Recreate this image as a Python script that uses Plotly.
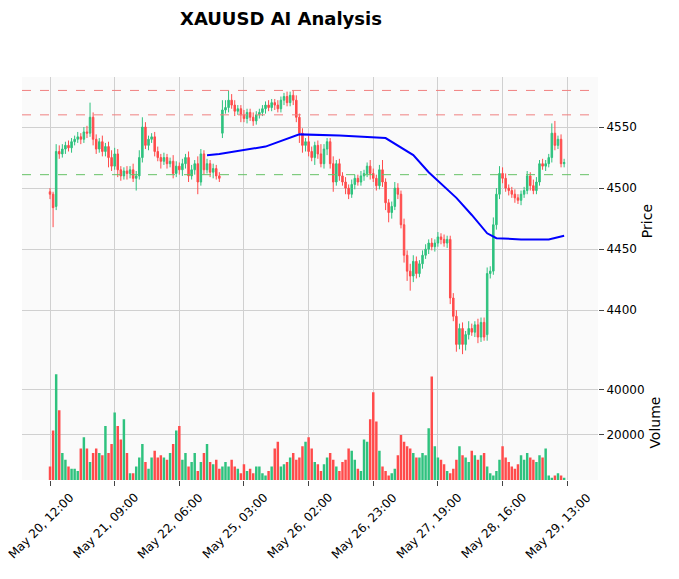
import plotly.graph_objects as go
from plotly.subplots import make_subplots

# ---------------- data ----------------
closes = [4495,4484,4530,4528,4532,4535,4533,4538,4540,4542,4540,4546,4545,4558,4540,4532,4538,4530,4534,4525,
          4518,4528,4515,4510,4514,4512,4515,4508,4510,4525,4550,4535,4540,4542,4530,4525,4522,4525,4520,4522,
          4512,4518,4515,4520,4525,4510,4515,4520,4505,4528,4515,4520,4513,4516,4510,4508,4564,4566,4572,4568,
          4563,4565,4560,4557,4562,4558,4555,4560,4562,4565,4568,4566,4570,4568,4565,4572,4575,4570,4576,4572,
          4558,4545,4535,4538,4530,4525,4535,4528,4520,4532,4538,4520,4505,4520,4510,4505,4500,4495,4503,4508,
          4505,4510,4512,4518,4512,4508,4502,4515,4505,4488,4480,4485,4500,4495,4470,4445,4432,4428,4440,4430,
          4438,4445,4450,4455,4452,4455,4460,4458,4455,4458,4410,4395,4372,4385,4372,4380,4385,4382,4388,4378,
          4390,4378,4430,4432,4470,4495,4512,4508,4500,4498,4495,4492,4490,4495,4498,4510,4502,4498,4505,4520,
          4518,4520,4525,4545,4535,4540,4520,4521]
opens = [4497,4495,4485,4530,4528,4532,4535,4533,4538,4540,4542,4540,4546,4545,4558,4540,4532,4538,4530,4534,
         4525,4518,4528,4515,4510,4514,4512,4515,4508,4510,4525,4550,4535,4540,4542,4530,4525,4522,4525,4520,
         4522,4512,4518,4515,4520,4525,4510,4515,4520,4505,4528,4515,4520,4513,4516,4510,4545,4564,4566,4572,
         4568,4563,4565,4560,4557,4562,4558,4555,4560,4562,4565,4568,4566,4570,4568,4565,4572,4575,4570,4576,
         4572,4558,4545,4535,4538,4530,4525,4535,4528,4520,4532,4538,4520,4505,4520,4510,4505,4500,4495,4503,
         4508,4505,4510,4512,4518,4512,4508,4502,4515,4505,4488,4480,4485,4500,4495,4470,4445,4432,4428,4440,
         4430,4438,4445,4450,4455,4452,4455,4460,4458,4455,4458,4410,4395,4372,4385,4372,4380,4385,4382,4388,
         4378,4390,4380,4430,4432,4470,4495,4512,4508,4500,4498,4495,4492,4490,4495,4498,4510,4502,4498,4505,
         4520,4518,4520,4525,4545,4535,4540,4520]
wick_up = [3,2,6,5,4,3,4,3,3,4,3,4,5,12,4,4,3,5,3,4,6,5,4,3,3,4,3,5,4,6,8,4,3,3,4,4,3,4,3,3,
           5,4,3,4,3,5,4,3,6,4,3,4,3,4,3,3,8,6,8,5,4,3,3,4,3,3,4,3,3,3,3,4,3,3,4,3,3,4,3,4,
           4,3,4,3,5,4,3,4,8,4,3,3,6,3,4,3,4,3,4,3,3,4,3,3,5,4,3,4,8,3,3,4,5,4,3,5,4,6,5,4,
           3,4,4,3,4,3,4,3,4,3,3,4,5,4,5,3,6,4,3,5,4,4,5,4,6,5,6,5,4,3,3,4,3,3,3,4,3,5,4,3,
           4,3,3,8,10,3,4,3]
wick_dn = [4,16,3,4,3,4,3,4,3,3,4,3,4,3,5,4,3,4,4,8,4,3,6,4,3,5,4,3,10,3,4,3,4,3,4,3,6,3,4,3,
           4,3,4,5,4,5,3,4,10,3,4,3,4,5,3,3,4,3,4,3,4,3,6,3,4,3,4,3,3,3,4,3,3,4,3,3,4,3,3,4,
           4,8,6,5,4,3,6,4,3,4,5,4,8,3,4,3,5,4,3,4,3,3,4,3,5,3,4,3,4,6,8,5,3,4,3,6,8,12,5,4,
           3,4,3,4,3,4,3,4,3,4,5,4,6,4,8,5,4,3,4,5,4,3,5,4,3,4,4,4,3,4,3,4,3,4,3,3,4,3,3,3,
           3,4,3,4,4,3,3,3]
volumes = [6000,22000,47000,31000,12000,9000,6000,5000,5000,4000,14000,19000,14000,8000,12000,14000,12000,11000,24000,12000,
           16000,30000,24000,18000,27000,12000,3000,3000,6000,10000,16000,8000,5000,10000,13000,10000,11000,10000,9000,12000,
           16000,22000,24000,9000,12000,6000,8000,12000,4000,8000,12000,16000,8000,7000,9000,5000,6000,8000,6000,9000,
           6000,5000,3000,7000,4000,5000,3000,6000,6000,3000,2000,4000,6000,14000,17000,6000,7000,8000,10000,12000,
           9000,10000,15000,17000,19000,14000,8000,7000,4000,7000,10000,12000,9000,6000,4000,8000,9000,14000,13000,9000,
           5000,4000,18000,17000,27000,39000,26000,13000,6000,4000,2000,3000,5000,11000,20000,17000,15000,14000,12000,10000,
           10000,12000,11000,23000,46000,15000,10000,9000,7000,4000,3000,5000,9000,15000,11000,10000,8000,13000,11000,9000,
           11000,12000,6000,3000,2000,4000,9000,15000,10000,8000,6000,5000,7000,11000,9000,12000,10000,9000,8000,11000,
           10000,14000,2000,1000,2000,3000,2000,1000]
ma_idx = [51, 55, 70, 81, 94, 101, 109, 118, 123, 132, 137, 142, 145, 153, 162, 167]
ma_val = [4527, 4528, 4534, 4544, 4543, 4542, 4541, 4527, 4513, 4492, 4478, 4463, 4459, 4458, 4458, 4461]
levels_red = [4580, 4560]
level_green = 4511
tick_pos = [0, 21, 42, 63, 84, 105, 126, 147, 168]
tick_text = ["May 20, 12:00", "May 21, 09:00", "May 22, 06:00", "May 25, 03:00", "May 26, 02:00",
             "May 26, 23:00", "May 27, 19:00", "May 28, 16:00", "May 29, 13:00"]

# ---------------- fig ----------------
n = len(closes)
idx = list(range(n))
highs = [max(o, c) + u for o, c, u in zip(opens, closes, wick_up)]
lows = [min(o, c) - d for o, c, d in zip(opens, closes, wick_dn)]
up_col, dn_col = "#2ec27e", "#ff4b4b"
vol_cols = [up_col if c >= o else dn_col for o, c in zip(opens, closes)]

fig = make_subplots(rows=2, cols=1, shared_xaxes=True, vertical_spacing=0,
                    row_heights=[0.715, 0.285])
fig.add_trace(go.Candlestick(x=idx, open=opens, high=highs, low=lows, close=closes,
                             increasing=dict(line=dict(color=up_col, width=1), fillcolor=up_col),
                             decreasing=dict(line=dict(color=dn_col, width=1), fillcolor=dn_col),
                             whiskerwidth=0, showlegend=False), row=1, col=1)
fig.add_trace(go.Scatter(x=ma_idx, y=ma_val, mode="lines", line=dict(color="blue", width=2),
                         showlegend=False), row=1, col=1)
for lv in levels_red:
    fig.add_hline(y=lv, line=dict(color="#f08080", width=1, dash="dash"), row=1, col=1)
fig.add_hline(y=level_green, line=dict(color="#66c266", width=1, dash="dash"), row=1, col=1)
fig.add_trace(go.Bar(x=idx, y=volumes, marker_color=vol_cols, marker_line_width=0, width=0.8,
                     showlegend=False), row=2, col=1)

# rotated date labels centred under their ticks (matplotlib style)
for p, t in zip(tick_pos, tick_text):
    fig.add_annotation(x=p, y=0, xref="x2", yref="paper", text=t, showarrow=False,
                       textangle=-45, xanchor="center", yanchor="middle",
                       xshift=-9, yshift=-46, font=dict(size=12))

# ---------------- layout ----------------
# page body has an 8px margin, so the figure is a bit smaller and margins shifted
fig.update_layout(width=671, height=571, margin=dict(l=14, r=81, t=69, b=99, autoexpand=False),
                  paper_bgcolor="white", plot_bgcolor="#fafafa",
                  font=dict(family="DejaVu Sans", size=12, color="black"),
                  xaxis_rangeslider_visible=False, bargap=0.2)
fig.add_annotation(text="<b>XAUUSD AI Analysis</b>", x=0.45, y=1.175, xref="paper",
                   yref="paper", showarrow=False, font=dict(size=18))
fig.update_xaxes(range=[-9.1, 178], showgrid=True, gridcolor="#d0d0d0", zeroline=False,
                 tickvals=tick_pos, showticklabels=False, ticks="outside",
                 showline=False, automargin=False)
fig.update_yaxes(side="right", showgrid=True, gridcolor="#d0d0d0", zeroline=False, ticks="outside",
                 automargin=False, title_standoff=6)
fig.update_yaxes(range=[4355, 4591], tickvals=[4400, 4450, 4500, 4550], title_text="Price", row=1, col=1)
fig.update_yaxes(range=[0, 51000], tickvals=[20000, 40000], tickformat="d", title_text="Volume",
                 row=2, col=1)

fig.write_html("out.html")
